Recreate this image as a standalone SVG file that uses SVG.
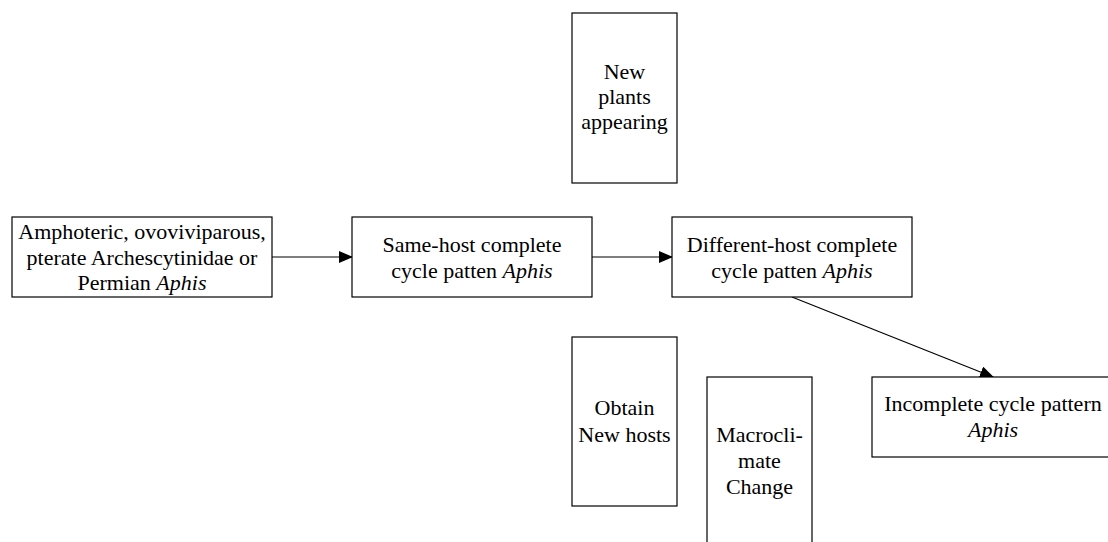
<svg xmlns="http://www.w3.org/2000/svg" width="1108" height="542" viewBox="0 0 1108 542">
<style>
.box{fill:#fff;stroke:#000;stroke-width:1.2}
.t{font-family:"Liberation Serif","Times New Roman",serif;font-size:22px;fill:#000;text-anchor:middle}
.i{font-style:italic}
.c{stroke:#000;stroke-width:1.2;fill:none;marker-end:url(#ah)}
</style>
<defs>
<marker id="ah" markerWidth="14" markerHeight="12" refX="13" refY="6" orient="auto" markerUnits="userSpaceOnUse">
<path d="M0,0 L14,6 L0,12 z" fill="#000"/>
</marker>
</defs>
<rect width="1108" height="542" fill="#fff"/>
<g id="connectors">
<line class="c" x1="272" y1="257" x2="352" y2="257"/>
<line class="c" x1="592" y1="257" x2="672" y2="257"/>
<line class="c" x1="792" y1="297" x2="993" y2="377"/>
</g>
<g id="n1">
<rect class="box" x="12" y="217" width="260" height="80"/>
<text class="t" x="142" y="239">Amphoteric, ovoviviparous,</text>
<text class="t" x="142" y="265">pterate Archescytinidae or</text>
<text class="t" x="142" y="290">Permian <tspan class="i">Aphis</tspan></text>
</g>
<g id="n2">
<rect class="box" x="352" y="217" width="240" height="80"/>
<text class="t" x="472" y="252">Same-host complete</text>
<text class="t" x="472" y="278">cycle patten <tspan class="i">Aphis</tspan></text>
</g>
<g id="n3">
<rect class="box" x="672" y="217" width="240" height="80"/>
<text class="t" x="792" y="252">Different-host complete</text>
<text class="t" x="792" y="278">cycle patten <tspan class="i">Aphis</tspan></text>
</g>
<g id="n4">
<rect class="box" x="872" y="377" width="242" height="80"/>
<text class="t" x="993" y="411">Incomplete cycle pattern</text>
<text class="t i" x="993" y="437">Aphis</text>
</g>
<g id="n5">
<rect class="box" x="572" y="13" width="105" height="170"/>
<text class="t" x="624.5" y="79">New</text>
<text class="t" x="624.5" y="104">plants</text>
<text class="t" x="624.5" y="129">appearing</text>
</g>
<g id="n6">
<rect class="box" x="572" y="337" width="105" height="169"/>
<text class="t" x="624.5" y="415">Obtain</text>
<text class="t" x="624.5" y="442">New hosts</text>
</g>
<g id="n7">
<rect class="box" x="707" y="377" width="105" height="180"/>
<text class="t" x="759.5" y="442">Macrocli-</text>
<text class="t" x="759.5" y="468">mate</text>
<text class="t" x="759.5" y="494">Change</text>
</g>
</svg>
